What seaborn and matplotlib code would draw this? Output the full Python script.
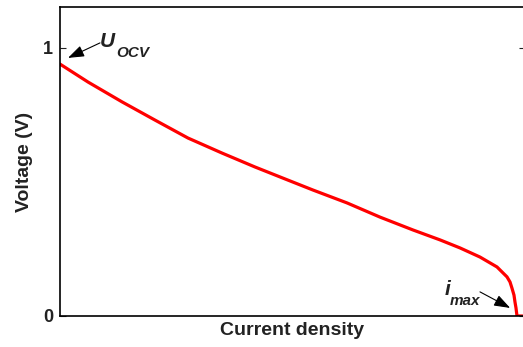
import pandas as pd
import matplotlib.pyplot as plt
import seaborn as sns

# polarization curve (normalised current, volts)
current = [0.0, 0.0613, 0.1357, 0.2079, 0.2801, 0.3545, 0.4267, 0.4989, 0.5536,
           0.628, 0.7002, 0.7724, 0.8315, 0.8753, 0.919, 0.9562, 0.9781, 0.9847,
           0.989, 0.9934, 0.9956, 0.9978, 1.0, 1.012]
voltage = [0.940, 0.873, 0.799, 0.731, 0.664, 0.608, 0.556, 0.507, 0.470,
           0.422, 0.369, 0.321, 0.284, 0.254, 0.220, 0.183, 0.146, 0.127,
           0.104, 0.078, 0.052, 0.030, 0.0, 0.0]
ytick_vals = [0, 1]
ytick_labels = ['0', '1']

df = pd.DataFrame({'Current': current, 'Voltage': voltage})

sns.set_style('white')
plt.rcParams['font.family'] = ['Liberation Sans', 'DejaVu Sans']

fig = plt.figure(figsize=(5.23, 3.47), dpi=100)
ax = fig.add_axes([60 / 523, 1 - 316 / 347, 465 / 523, 309 / 347])

sns.lineplot(data=df, x='Current', y='Voltage', color='#ff0000', linewidth=2.3, ax=ax)

ax.set_xlim(0, 465 / 457)
ax.set_ylim(0, 309 / 268)
ax.set_xticks([])
ax.set_yticks(ytick_vals)
ax.set_yticklabels(ytick_labels, fontsize=13, fontweight='bold')
ax.tick_params(axis='y', direction='in', length=4, width=0.8, right=True, left=True,
               pad=5, colors='#222222')
for s in ax.spines.values():
    s.set_color('black')
    s.set_linewidth(1.2)

ax.set_xlabel('Current density', fontsize=14, fontweight='bold', color='#222222', labelpad=4)
ax.set_ylabel('Voltage (V)', fontsize=14, fontweight='bold', color='#222222', labelpad=7)

# annotations
arrow = dict(arrowstyle='-|>,head_length=0.7,head_width=0.25', color='black', lw=0.8,
             mutation_scale=14, shrinkA=0, shrinkB=0)
ax.annotate('', xy=(0.0175, 0.963), xytext=(0.0875, 1.019), arrowprops=arrow)
ax.text(0.088, 1.004, 'U', fontsize=15, fontweight='bold', style='italic', color='#222222')
ax.text(0.123, 0.966, 'OCV', fontsize=11, fontweight='bold', style='italic', color='#222222')

ax.annotate('', xy=(0.985, 0.030), xytext=(0.919, 0.090), arrowprops=arrow)
ax.text(0.842, 0.078, 'i', fontsize=15, fontweight='bold', style='italic', color='#222222')
ax.text(0.853, 0.041, 'max', fontsize=11, fontweight='bold', style='italic', color='#222222')

plt.savefig('out.png', dpi=100)
